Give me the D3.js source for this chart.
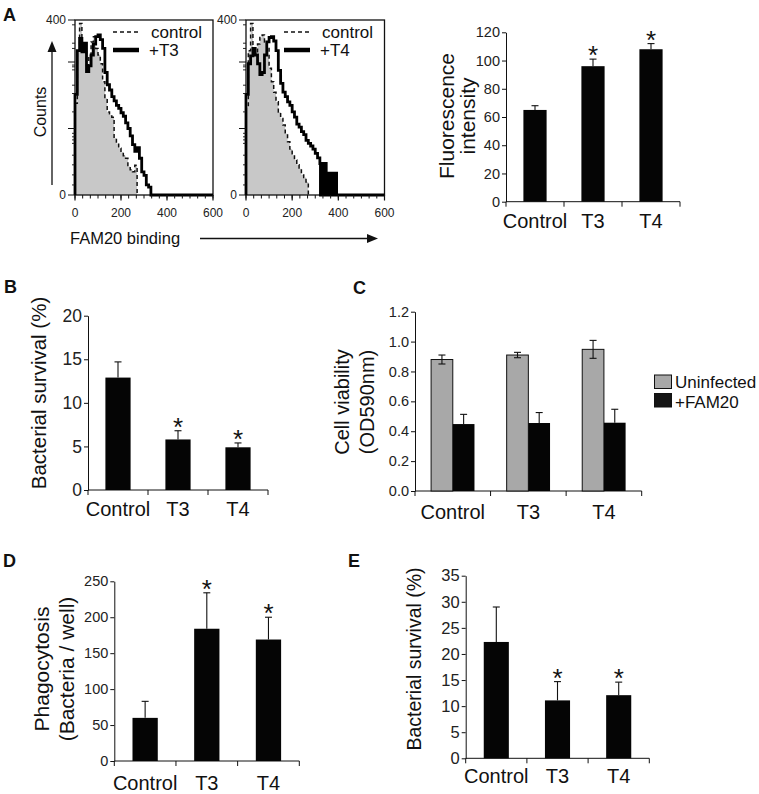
<!DOCTYPE html>
<html><head><meta charset="utf-8">
<script src="https://cdn.jsdelivr.net/npm/d3@7"></script>
<style>
body{margin:0;background:#fff;}
svg{display:block;font-family:"Liberation Sans",Arial,Helvetica,sans-serif;}
</style></head><body>
<svg id="fig" width="759" height="794"></svg>
<script>
// ---------------- data ----------------
const categories = ["Control", "T3", "T4"];

// Panel A – flow histograms (counts per 10-unit FAM20-binding bin, starting at 0)
const histBinWidth = 10;
const h1Control = [210,330,392,340,335,297,320,350,362,335,320,300,259,221,190,183,178,130,118,107,98,90,84,65,58,53,68];
const h1T3      = [230,330,358,327,347,282,295,320,345,362,366,355,335,280,252,240,225,215,205,198,188,180,165,152,135,115,100,108,84,53,45,23,18];
const h2Control = [200,330,392,335,320,345,360,366,350,335,290,259,235,213,190,175,160,140,122,105,91,80,69,60,46,40,30];
const h2T4      = [230,300,318,335,320,300,275,280,320,350,360,362,352,330,285,255,235,225,213,205,190,178,162,155,145,138,125,118,112,105,95,85];
// sparse high-binding tail of +T4 (fine 2.5-unit channels, starting at 320)
const h2T4TailStart = 320;
const h2T4TailBinWidth = 2.5;
const h2T4Tail  = [72,0,72,0,72,0,72,0,72,0,72,0,50,0,50,0,50,0,50,0,50,0,50,0,50,0,50,0,50];
const histXTicks = [0, 200, 400, 600];
const histYLabelTicks = [0, 400];
const histYMajorTicks = [0, 152, 304, 400];
const histYMinorTicks = [23, 46, 69, 91, 118, 126, 133, 141, 190, 232, 251, 286, 293, 297, 335, 347, 389];

// Panel A – fluorescence intensity
const aFluor    = [65, 96, 108];
const aFluorErr = [3, 5, 4];
const aSig      = [false, true, true];
const aTicks    = [0, 20, 40, 60, 80, 100, 120];

// Panel B – bacterial survival
const bSurv    = [12.9, 5.8, 4.9];
const bSurvErr = [1.8, 1.0, 0.5];
const bSig     = [false, true, true];
const bTicks   = [0, 5, 10, 15, 20];

// Panel C – cell viability
const cSeries        = ["Uninfected", "+FAM20"];
const cUninfected    = [0.88, 0.91, 0.948];
const cUninfectedErr = [0.03, 0.018, 0.06];
const cFam20         = [0.448, 0.455, 0.457];
const cFam20Err      = [0.065, 0.07, 0.09];
const cTicks         = [0, 0.2, 0.4, 0.6, 0.8, 1.0, 1.2];

// Panel D – phagocytosis
const dPhago    = [60, 184, 169];
const dPhagoErr = [23, 50, 31];
const dSig      = [false, true, true];
const dTicks    = [0, 50, 100, 150, 200, 250];

// Panel E – bacterial survival
const eSurv    = [22.3, 11.1, 12.1];
const eSurvErr = [6.7, 3.6, 2.5];
const eSig     = [false, true, true];
const eTicks   = [0, 5, 10, 15, 20, 25, 30, 35];

// ---------------- drawing ----------------
const svg = d3.select("#fig");
const GRAY_FILL = "#c8c8c8";
const BAR_GRAY = "#a8a8a8";
const BLACK = "#050505";

function panelLetter(t, x, y) {
  svg.append("text").attr("x", x).attr("y", y).attr("font-size", 18)
    .attr("font-weight", "bold").attr("fill", "#111").text(t);
}

function rotatedTitle(lines, xs, cy, size) {
  lines.forEach((l, i) => {
    svg.append("text")
      .attr("transform", `translate(${xs[i]},${cy}) rotate(-90)`)
      .attr("text-anchor", "middle").attr("font-size", size).attr("fill", "#111")
      .text(l);
  });
}

function histPanel(o) {
  const g = svg.append("g");
  const x = d3.scaleLinear().domain([0, 600]).range([o.x0, o.x1]);
  const y = d3.scaleLinear().domain([0, 400]).range([o.yb, o.yt]);

  const toPts = (segments) => {
    const pts = [[0, 0]];
    let end = 0;
    segments.forEach(s => {
      s.counts.forEach((c, i) => pts.push([s.start + i * s.width, c]));
      end = s.start + s.counts.length * s.width;
    });
    pts.push([end, 0]);
    return pts;
  };
  const line = d3.line().x(d => x(d[0])).y(d => y(d[1])).curve(d3.curveStepAfter);
  const area = d3.area().x(d => x(d[0])).y0(y(0)).y1(d => y(d[1])).curve(d3.curveStepAfter);

  const cPts = toPts([{ start: 0, width: histBinWidth, counts: o.control }]);
  const tPts = toPts(o.treat).concat([[600, 0]]);

  g.append("path").attr("d", area(cPts)).attr("fill", GRAY_FILL);

  // box
  g.append("rect").attr("x", x(0)).attr("y", y(400)).attr("width", x(600) - x(0))
    .attr("height", y(0) - y(400)).attr("fill", "none").attr("stroke", "#111").attr("stroke-width", 1.3);

  g.append("path").attr("d", line(cPts)).attr("fill", "none").attr("stroke", "#111")
    .attr("stroke-width", 1.5).attr("stroke-dasharray", "4,3");
  g.append("path").attr("d", line(tPts)).attr("fill", "none").attr("stroke", "#000")
    .attr("stroke-width", 2.8).attr("stroke-linejoin", "miter");

  // x ticks
  const minor = d3.range(0, 601, 200 / 6);
  g.selectAll(".xmin").data(minor).join("line")
    .attr("x1", d => x(d)).attr("x2", d => x(d)).attr("y1", y(0)).attr("y2", y(0) + 3.5)
    .attr("stroke", "#111").attr("stroke-width", 1);
  g.selectAll(".xmaj").data(histXTicks).join("line")
    .attr("x1", d => x(d)).attr("x2", d => x(d)).attr("y1", y(0)).attr("y2", y(0) + 5.5)
    .attr("stroke", "#111").attr("stroke-width", 1.2);
  g.selectAll(".xlab").data(histXTicks).join("text")
    .attr("x", d => x(d)).attr("y", y(0) + 22).attr("text-anchor", "middle")
    .attr("font-size", 12).attr("fill", "#222").text(d => d);

  // y ticks
  g.selectAll(".ymin").data(histYMinorTicks).join("line")
    .attr("x1", x(0) - 3).attr("x2", x(0)).attr("y1", d => y(d)).attr("y2", d => y(d))
    .attr("stroke", "#111").attr("stroke-width", 0.9);
  g.selectAll(".ymaj").data(histYMajorTicks).join("line")
    .attr("x1", x(0) - 7).attr("x2", x(0)).attr("y1", d => y(d)).attr("y2", d => y(d))
    .attr("stroke", "#111").attr("stroke-width", 1);
  g.selectAll(".ylab").data(histYLabelTicks).join("text")
    .attr("x", x(0) - 9).attr("y", d => y(d) + 4).attr("text-anchor", "end")
    .attr("font-size", 12).attr("fill", "#222").text(d => d);

  // legend
  const lx = x(0) + 38;
  g.append("line").attr("x1", lx).attr("x2", lx + 26).attr("y1", 32).attr("y2", 32)
    .attr("stroke", "#111").attr("stroke-width", 1.5).attr("stroke-dasharray", "4,3");
  g.append("line").attr("x1", lx).attr("x2", lx + 26).attr("y1", 50).attr("y2", 50)
    .attr("stroke", "#000").attr("stroke-width", 4.5);
  g.append("text").attr("x", lx + 38).attr("y", 38).attr("font-size", 17).attr("fill", "#111").text("control");
  g.append("text").attr("x", lx + 36).attr("y", 56).attr("font-size", 17).attr("fill", "#111").text(o.label);
}

function barPanel(o) {
  const g = svg.append("g");
  const x = d3.scaleBand().domain(categories).range([o.x0, o.x1]).padding(0);
  const y = d3.scaleLinear().domain([0, o.ymax]).range([o.y0, o.y1]);
  const step = x.step();

  // y axis
  const ax = g.append("g").attr("transform", `translate(${o.x0},0)`)
    .call(d3.axisLeft(y).tickValues(o.ticks).tickFormat(o.fmt).tickSize(4).tickSizeOuter(0));
  ax.select(".domain").attr("stroke", "#111");
  ax.selectAll(".tick line").attr("stroke", "#111");
  ax.selectAll(".tick text").attr("font-size", o.tickFont).attr("fill", "#222")
    .attr("font-family", "'Liberation Sans', Arial, sans-serif").attr("x", -6);

  // x axis
  g.append("line").attr("x1", o.x0).attr("x2", o.x1).attr("y1", o.y0).attr("y2", o.y0)
    .attr("stroke", "#111").attr("stroke-width", 1);
  const bounds = categories.map(c => x(c)).concat([o.x1]);
  g.selectAll(".bt").data(bounds).join("line")
    .attr("x1", d => d).attr("x2", d => d).attr("y1", o.y0).attr("y2", o.y0 + 5)
    .attr("stroke", "#111").attr("stroke-width", 1);

  // bars
  const groupW = step * o.groupFrac;
  const inner = d3.scaleBand().domain(o.series.map((s, i) => i)).range([0, groupW]).padding(0);
  o.series.forEach((s, si) => {
    categories.forEach((c, ci) => {
      const bx = x(c) + (step - groupW) / 2 + inner(si);
      const v = s.values[ci], e = s.errs[ci];
      g.append("rect").attr("x", bx).attr("y", y(v)).attr("width", inner.bandwidth())
        .attr("height", y(0) - y(v)).attr("fill", s.fill)
        .attr("stroke", s.stroke || "none").attr("stroke-width", s.stroke ? 1 : 0);
      const cx = bx + inner.bandwidth() / 2;
      const eg = g.append("g").attr("stroke", "#111").attr("stroke-width", 1.1);
      const lowV = s.stroke ? v - e : v;   // lower half is hidden inside black bars
      eg.append("line").attr("x1", cx).attr("x2", cx).attr("y1", y(lowV)).attr("y2", y(v + e));
      eg.append("line").attr("x1", cx - 3.5).attr("x2", cx + 3.5).attr("y1", y(v + e)).attr("y2", y(v + e));
      if (s.stroke) {
        eg.append("line").attr("x1", cx - 3.5).attr("x2", cx + 3.5).attr("y1", y(v - e)).attr("y2", y(v - e));
      }
      if (s.sig && s.sig[ci]) {
        g.append("text").attr("x", cx).attr("y", y(v + e) + 5).attr("text-anchor", "middle")
          .attr("font-size", 26).attr("fill", "#111").text("*");
      }
    });
  });

  // category labels
  g.selectAll(".cl").data(categories).join("text")
    .attr("x", d => x(d) + step / 2).attr("y", o.catY).attr("text-anchor", "middle")
    .attr("font-size", 20).attr("fill", "#111").text(d => d);
}

// ---- Panel A ----
panelLetter("A", 3, 21);
histPanel({ x0: 75, x1: 213, yb: 195, yt: 20, control: h1Control,
  treat: [{ start: 0, width: histBinWidth, counts: h1T3 }], label: "+T3" });
histPanel({ x0: 246, x1: 384.5, yb: 195, yt: 20, control: h2Control,
  treat: [{ start: 0, width: histBinWidth, counts: h2T4 },
          { start: h2T4TailStart, width: h2T4TailBinWidth, counts: h2T4Tail }], label: "+T4" });

// Counts arrow
svg.append("line").attr("x1", 52).attr("x2", 52).attr("y1", 185).attr("y2", 50)
  .attr("stroke", "#111").attr("stroke-width", 1.3);
svg.append("path").attr("d", "M52,41 L47.5,52 L56.5,52 Z").attr("fill", "#111");
rotatedTitle(["Counts"], [46], 112, 16);
// FAM20 binding arrow
svg.append("text").attr("x", 70).attr("y", 244).attr("font-size", 16.5).attr("fill", "#111").text("FAM20 binding");
svg.append("line").attr("x1", 200).attr("x2", 370).attr("y1", 238.5).attr("y2", 238.5)
  .attr("stroke", "#111").attr("stroke-width", 1.3);
svg.append("path").attr("d", "M378,238.5 L367,234 L367,243 Z").attr("fill", "#111");

barPanel({ x0: 506, x1: 680, y0: 201.7, y1: 32.3, ymax: 120, ticks: aTicks, fmt: d3.format("d"),
  tickFont: 14.5, groupFrac: 0.4, catY: 228,
  series: [{ values: aFluor, errs: aFluorErr, fill: BLACK, sig: aSig }] });
rotatedTitle(["Fluorescence", "intensity"], [454, 475], 116, 21);

// ---- Panel B ----
panelLetter("B", 4, 293);
barPanel({ x0: 88, x1: 268, y0: 490, y1: 315.7, ymax: 20, ticks: bTicks, fmt: d3.format("d"),
  tickFont: 17.5, groupFrac: 0.42, catY: 516,
  series: [{ values: bSurv, errs: bSurvErr, fill: BLACK, sig: bSig }] });
rotatedTitle(["Bacterial survival (%)"], [46], 393, 20.5);

// ---- Panel C ----
panelLetter("C", 353, 294);
barPanel({ x0: 415, x1: 641.7, y0: 491, y1: 311.7, ymax: 1.2, ticks: cTicks, fmt: d3.format(".1f"),
  tickFont: 14.5, groupFrac: 0.574, catY: 519,
  series: [
    { values: cUninfected, errs: cUninfectedErr, fill: BAR_GRAY, stroke: "#111" },
    { values: cFam20, errs: cFam20Err, fill: BLACK }
  ] });
rotatedTitle(["Cell viability", "(OD590nm)"], [349, 374], 402, 20);
// legend C
const cLegendFill = [BAR_GRAY, "#151515"];
cSeries.forEach((s, i) => {
  svg.append("rect").attr("x", 654.5).attr("y", 375 + i * 18.5).attr("width", 17).attr("height", 13.5)
    .attr("fill", cLegendFill[i]).attr("stroke", "#111").attr("stroke-width", 1);
  svg.append("text").attr("x", 675).attr("y", 388 + i * 19.5).attr("font-size", 17).attr("fill", "#111").text(s);
});

// ---- Panel D ----
panelLetter("D", 3, 567);
barPanel({ x0: 114.3, x1: 299.3, y0: 761, y1: 581.3, ymax: 250, ticks: dTicks, fmt: d3.format("d"),
  tickFont: 14.5, groupFrac: 0.41, catY: 790,
  series: [{ values: dPhago, errs: dPhagoErr, fill: BLACK, sig: dSig }] });
rotatedTitle(["Phagocytosis", "(Bacteria / well)"], [49, 74], 669, 21);

// ---- Panel E ----
panelLetter("E", 348, 567);
barPanel({ x0: 465.7, x1: 649.3, y0: 758.3, y1: 575.7, ymax: 35, ticks: eTicks, fmt: d3.format("d"),
  tickFont: 16.5, groupFrac: 0.41, catY: 783,
  series: [{ values: eSurv, errs: eSurvErr, fill: BLACK, sig: eSig }] });
rotatedTitle(["Bacterial survival (%)"], [421], 659, 19.5);
</script></body></html>
